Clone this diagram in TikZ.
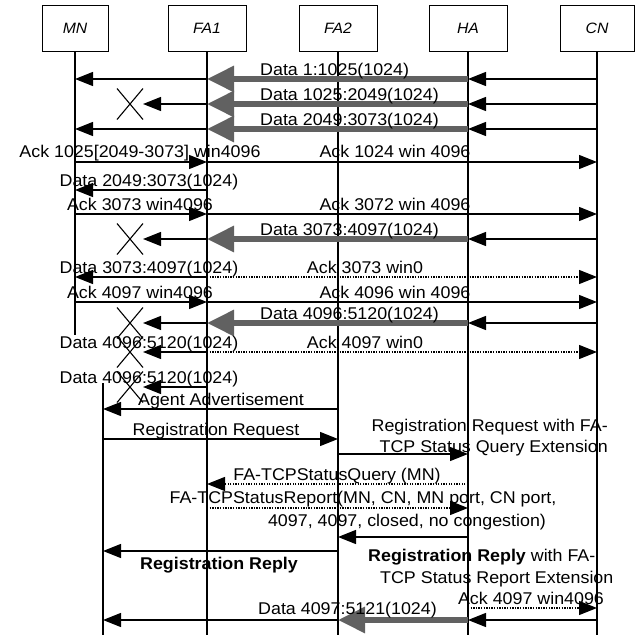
\documentclass[tikz,border=0pt]{standalone}
\usepackage{fontspec}
\setmainfont{Liberation Sans}[FakeStretch=1.05]
\usetikzlibrary{arrows.meta,shapes.misc}

\tikzset{
	entity/.style={draw, line width=0.8pt, minimum width=78pt, minimum height=46pt, inner sep=0pt, font=\fontsize{15}{17}\selectfont\itshape},
	lifeline/.style={line width=1.3pt},
	msg/.style={line width=1.3pt, -{Triangle[length=18pt,width=14pt]}},
	dotmsg/.style={msg, dash pattern=on 1.3pt off 1.3pt},
	tunnel/.style={draw=black!62, line width=6pt, -{Triangle[length=27pt,width=25pt]}},
	lost/.style={cross out, draw, line width=1.1pt, minimum width=26pt, minimum height=31pt, inner sep=0pt, outer sep=0pt},
	lbl/.style={inner sep=0pt, anchor=base, font=\fontsize{17}{20}\selectfont},
}

\begin{document}
\begin{tikzpicture}[x=1pt, y=-1pt]
	
	% Canvas
	\useasboundingbox (0,0) rectangle (637,635);
	
	% Entity boxes
	\node[entity, minimum width=66pt] (mn) at (75,28) {MN};
	\node[entity] (fa1) at (207,28) {FA1};
	\node[entity] (fa2) at (338,28) {FA2};
	\node[entity] (ha) at (468,28) {HA};
	\node[entity, minimum width=74pt] (cn) at (597,28) {CN};
	
	% Lifelines (MN moves to FA2 after the handoff)
	\coordinate (mnstop) at (0,335);
	\coordinate (bottom) at (0,635);
	\coordinate (mn2) at (103,383);
	\draw[lifeline] (mn.south) -- (mn |- mnstop);
	\foreach \n in {fa1,fa2,ha,cn}
		\draw[lifeline] (\n.south) -- (\n |- bottom);
	\draw[lifeline] (mn2) -- (mn2 |- bottom);
	
	% Rows
	\coordinate (r1) at (0,79);
	\coordinate (r2) at (0,104);
	\coordinate (r3) at (0,129);
	\coordinate (r4) at (0,162);
	\coordinate (r5) at (0,190);
	\coordinate (r6) at (0,214);
	\coordinate (r7) at (0,239);
	\coordinate (r8) at (0,277);
	\coordinate (r9) at (0,302);
	\coordinate (r10) at (0,323);
	\coordinate (r11) at (0,352);
	\coordinate (r12) at (0,387);
	\coordinate (r13) at (0,409);
	\coordinate (r14) at (0,439);
	\coordinate (r15) at (0,454);
	\coordinate (r16) at (0,484);
	\coordinate (r17) at (0,508);
	\coordinate (r18) at (0,537);
	\coordinate (r19) at (0,551);
	\coordinate (r20) at (0,608);
	\coordinate (r21) at (0,620);
	
	% Lost segments
	\node[lost] (x1) at (130,104) {};
	\node[lost] (x2) at (130,239) {};
	\node[lost] (x3) at (130,323) {};
	\node[lost] (x4) at (130,352) {};
	\node[lost] (x5) at (130,387) {};
	
	% Data 1:1025
	\draw[msg] (cn |- r1) -- (ha |- r1);
	\draw[tunnel] (ha |- r1) -- (fa1 |- r1);
	\draw[msg] (fa1 |- r1) -- (mn |- r1);
	\node[lbl, anchor=base west] (d1) at (260,75) {Data 1:1025(1024)};
	
	% Data 1025:2049
	\draw[msg] (cn |- r2) -- (ha |- r2);
	\draw[tunnel] (ha |- r2) -- (fa1 |- r2);
	\draw[msg] (fa1 |- r2) -- (x1.east);
	\node[lbl, anchor=base west] (d2) at (260,100) {Data 1025:2049(1024)};
	
	% Data 2049:3073
	\draw[msg] (cn |- r3) -- (ha |- r3);
	\draw[tunnel] (ha |- r3) -- (fa1 |- r3);
	\draw[msg] (fa1 |- r3) -- (mn |- r3);
	\node[lbl, anchor=base west] (d3) at (260,125) {Data 2049:3073(1024)};
	
	% First acks
	\draw[msg] (mn |- r4) -- (fa1 |- r4);
	\draw[msg] (fa1 |- r4) -- (cn |- r4);
	\node[lbl] (a1) at (140,157) {Ack 1025[2049-3073] win4096};
	\node[lbl] (a2) at (395,157) {Ack 1024 win 4096};
	
	% Retransmission from FA1
	\draw[msg] (fa1 |- r5) -- (mn |- r5);
	\node[lbl] (d4) at (149,186) {Data 2049:3073(1024)};
	\draw[msg] (mn |- r6) -- (fa1 |- r6);
	\draw[msg] (fa1 |- r6) -- (cn |- r6);
	\node[lbl] (a3) at (140,210) {Ack 3073 win4096};
	\node[lbl] (a4) at (395,210) {Ack 3072 win 4096};
	
	% Data 3073:4097
	\draw[msg] (cn |- r7) -- (ha |- r7);
	\draw[tunnel] (ha |- r7) -- (fa1 |- r7);
	\draw[msg] (fa1 |- r7) -- (x2.east);
	\node[lbl, anchor=base west] (d5) at (260,235) {Data 3073:4097(1024)};
	\draw[msg] (fa1 |- r8) -- (mn |- r8);
	\draw[dotmsg] (fa1 |- r8) -- (cn |- r8);
	\node[lbl] (d6) at (149,273) {Data 3073:4097(1024)};
	\node[lbl] (a5) at (365,273) {Ack 3073 win0};
	\draw[msg] (mn |- r9) -- (fa1 |- r9);
	\draw[msg] (fa1 |- r9) -- (cn |- r9);
	\node[lbl] (a6) at (140,298) {Ack 4097 win4096};
	\node[lbl] (a7) at (395,298) {Ack 4096 win 4096};
	
	% Data 4096:5120
	\draw[msg] (cn |- r10) -- (ha |- r10);
	\draw[tunnel] (ha |- r10) -- (fa1 |- r10);
	\draw[msg] (fa1 |- r10) -- (x3.east);
	\node[lbl, anchor=base west] (d7) at (260,319) {Data 4096:5120(1024)};
	\draw[msg] (fa1 |- r11) -- (x4.east);
	\draw[dotmsg] (fa1 |- r11) -- (cn |- r11);
	\node[lbl] (d8) at (149,348) {Data 4096:5120(1024)};
	\node[lbl] (a8) at (365,348) {Ack 4097 win0};
	\draw[msg] (fa1 |- r12) -- (x5.east);
	\node[lbl] (d9) at (149,383) {Data 4096:5120(1024)};
	
	% Registration at FA2
	\draw[msg] (fa2 |- r13) -- (mn2 |- r13);
	\node[lbl] (adv) at (221,405) {Agent Advertisement};
	\draw[msg] (mn2 |- r14) -- (fa2 |- r14);
	\node[lbl] (req) at (216,435) {Registration Request};
	\draw[msg] (fa2 |- r15) -- (ha |- r15);
	\node[lbl, anchor=base east] (req1) at (608,431) {Registration Request with FA-};
	\node[lbl, anchor=base east] (req2) at (608,452) {TCP Status Query Extension};
	
	% Status query and report
	\draw[dotmsg] (ha |- r16) -- (fa1 |- r16);
	\node[lbl] (query) at (337,480) {FA-TCPStatusQuery (MN)};
	\draw[dotmsg] (fa1 |- r17) -- (ha |- r17);
	\node[lbl] (rep1) at (363,503) {FA-TCPStatusReport(MN, CN, MN port, CN port,};
	\node[lbl] (rep2) at (407,526) {4097, 4097, closed, no congestion)};
	
	% Registration reply
	\draw[msg] (ha |- r18) -- (fa2 |- r18);
	\draw[msg] (fa2 |- r19) -- (mn2 |- r19);
	\node[lbl, font=\fontsize{17}{20}\selectfont\bfseries] (reply) at (219,569) {Registration Reply};
	\node[lbl, anchor=base west] (reply1) at (368,561) {\textbf{Registration Reply} with FA-};
	\node[lbl, anchor=base west] (reply2) at (380,583) {TCP Status Report Extension};
	
	% Resumed transfer
	\draw[dotmsg] (ha |- r20) -- (cn |- r20);
	\node[lbl] (a9) at (531,604) {Ack 4097 win4096};
	\draw[msg] (cn |- r21) -- (ha |- r21);
	\draw[tunnel] (ha |- r21) -- (fa2 |- r21);
	\draw[msg] (fa2 |- r21) -- (mn2 |- r21);
	\node[lbl, anchor=base west] (d10) at (258,614) {Data 4097:5121(1024)};
	
\end{tikzpicture}
\end{document}
